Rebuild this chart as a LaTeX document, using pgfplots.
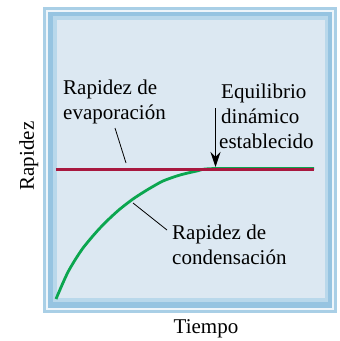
\documentclass[border=0pt]{standalone}
\usepackage{pgfplots}
\pgfplotsset{compat=1.18}
\usepackage{fontspec}
\setmainfont{Liberation Serif}
\usetikzlibrary{arrows.meta}
\definecolor{frameA}{HTML}{A9CFE6}
\definecolor{frameB}{HTML}{EEF5FA}
\definecolor{frameC}{HTML}{96C4E1}
\definecolor{frameD}{HTML}{B9D8EB}
\definecolor{panel}{HTML}{DCE8F2}
\definecolor{evapred}{HTML}{A8183F}
\definecolor{condgreen}{HTML}{0BA64F}
\tikzset{lbl/.style={font=\fontsize{21bp}{25bp}\selectfont,inner sep=0pt}}

\begin{document}
\begin{tikzpicture}
\begin{axis}[
  scale only axis,
  width=268bp,height=278bp,
  xmin=57,xmax=325,ymin=20,ymax=298,
  y dir=reverse,
  hide axis,
  clip=false
]
% page size, in pixels of the reference
\path (axis cs:0,0) rectangle (axis cs:340,341);
% framed panel
\fill[frameA] (axis cs:43,7) rectangle (axis cs:337,313);
\fill[frameB] (axis cs:46,10) rectangle (axis cs:334,310);
\fill[frameC] (axis cs:48,12) rectangle (axis cs:332,308);
\fill[frameD] (axis cs:53,16) rectangle (axis cs:328,302);
\fill[panel]  (axis cs:57,20) rectangle (axis cs:325,298);

% rate of condensation
\addplot[condgreen,line width=2.8bp,smooth,tension=0.4] coordinates {
(56,299)(62,285)(68,272)(75,260)(83,248)(92,237)(100,228)(110,218)
(120,209)(133,199)(147,190)(163,181)(180,175)(197,171)(213,168.6)(314,168.5)
};
% rate of evaporation
\addplot[evapred,line width=3.5bp] coordinates {(56,169.5)(314,169.5)};

% leader lines and arrow
\draw[black,line width=0.8bp] (axis cs:115,128) -- (axis cs:126,163);
\draw[black,line width=0.8bp] (axis cs:133,203) -- (axis cs:167,230);
\draw[black,line width=1.2bp,-{Stealth[length=15bp,width=10bp]}]
  (axis cs:215.5,108) -- (axis cs:215.5,167);

\node[lbl,anchor=base west] at (axis cs:63,94) {Rapidez de};
\node[lbl,anchor=base west] at (axis cs:63,119) {evaporación};
\node[lbl,anchor=base west] at (axis cs:221,98) {Equilibrio};
\node[lbl,anchor=base west] at (axis cs:221,123) {dinámico};
\node[lbl,anchor=base west] at (axis cs:219,148) {establecido};
\node[lbl,anchor=base west] at (axis cs:172,239) {Rapidez de};
\node[lbl,anchor=base west] at (axis cs:172,264) {condensación};

\node[lbl,anchor=base] at (axis cs:206,333) {Tiempo};
\node[lbl,anchor=base,rotate=90] at (axis cs:34,156) {Rapidez};
\end{axis}
\end{tikzpicture}
\end{document}
